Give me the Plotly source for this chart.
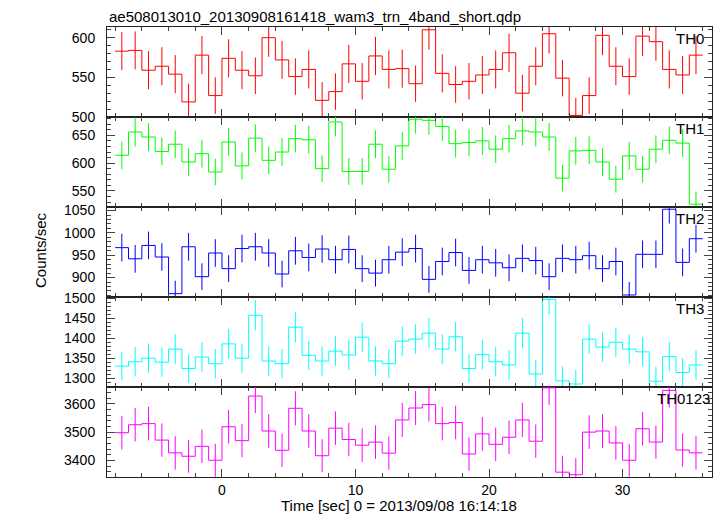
import plotly.graph_objects as go
from plotly.subplots import make_subplots

TIME = [-7.5, -6.5, -5.5, -4.5, -3.5, -2.5, -1.5, -0.5, 0.5, 1.5, 2.5, 3.5, 4.5, 5.5, 6.5,
        7.5, 8.5, 9.5, 10.5, 11.5, 12.5, 13.5, 14.5, 15.5, 16.5, 17.5, 18.5, 19.5, 20.5,
        21.5, 22.5, 23.5, 24.5, 25.5, 26.5, 27.5, 28.5, 29.5, 30.5, 31.5, 32.5, 33.5, 34.5, 35.5]
BIN_HALF = 0.5

TH0 = [583, 584, 559, 564, 554, 519, 578, 527, 574, 559, 552, 600, 572, 551, 560, 521, 532, 567, 545, 577,
       560, 561, 542, 610, 555, 541, 545, 553, 560, 581, 530, 564, 605, 549, 502, 527, 603, 564, 551, 602,
       595, 560, 553, 578]
TH0_ERR = [24, 24, 24, 24, 24, 23, 24, 23, 24, 24, 23, 24, 24, 23, 24, 23, 23, 24, 23, 24, 24, 24, 23, 25, 24,
           23, 23, 24, 24, 24, 23, 24, 25, 23, 22, 23, 25, 24, 23, 25, 24, 24, 24, 24]

TH1 = [614, 656, 647, 621, 634, 602, 617, 584, 638, 595, 645, 605, 620, 644, 642, 590, 674, 585, 585, 634,
       589, 631, 679, 677, 666, 635, 637, 640, 625, 644, 658, 656, 647, 573, 622, 623, 602, 571, 613, 589,
       625, 641, 636, 526]
TH1_ERR = [25, 26, 25, 25, 25, 25, 25, 24, 25, 24, 25, 25, 25, 25, 25, 24, 26, 24, 24, 25, 24, 25, 26, 26, 26,
           25, 25, 25, 25, 25, 26, 26, 25, 24, 25, 25, 25, 24, 25, 24, 25, 25, 25, 23]

TH2 = [967, 942, 972, 946, 864, 969, 902, 955, 920, 965, 969, 955, 908, 960, 945, 964, 940, 963, 920, 910,
       940, 957, 965, 896, 936, 956, 916, 940, 933, 922, 943, 938, 902, 943, 940, 949, 920, 936, 861, 952,
       952, 1053, 934, 987]
TH2_ERR = [31, 31, 31, 31, 29, 31, 30, 31, 30, 31, 31, 31, 30, 31, 31, 31, 31, 31, 30, 30, 31, 31, 31, 30, 31,
           31, 30, 31, 31, 30, 31, 31, 30, 31, 31, 31, 30, 31, 29, 31, 31, 32, 31, 31]

TH3 = [1330, 1341, 1350, 1340, 1373, 1324, 1353, 1336, 1386, 1350, 1458, 1343, 1336, 1428, 1357, 1343, 1368,
       1358, 1403, 1343, 1336, 1393, 1398, 1413, 1373, 1404, 1324, 1359, 1341, 1333, 1413, 1310, 1498, 1293,
       1285, 1398, 1378, 1390, 1373, 1366, 1292, 1354, 1314, 1333]
TH3_ERR = [36, 37, 37, 37, 37, 36, 37, 37, 37, 37, 38, 37, 37, 38, 37, 37, 37, 37, 37, 37, 37, 37, 37, 38, 37,
           37, 36, 37, 37, 37, 38, 36, 39, 36, 36, 37, 37, 37, 37, 37, 36, 37, 36, 37]

TH0123 = [3498, 3526, 3530, 3472, 3427, 3415, 3450, 3401, 3519, 3470, 3627, 3504, 3436, 3584, 3504, 3417, 3514,
          3474, 3454, 3465, 3426, 3543, 3585, 3597, 3530, 3534, 3423, 3494, 3457, 3482, 3543, 3468, 3656, 3359,
          3350, 3500, 3504, 3462, 3401, 3512, 3465, 3647, 3437, 3427]
TH0123_ERR = [59, 59, 59, 59, 59, 58, 59, 58, 59, 59, 60, 59, 59, 60, 59, 58, 59, 59, 59, 59, 59, 60, 60, 60, 59,
              59, 59, 59, 59, 59, 60, 59, 60, 58, 58, 59, 59, 59, 58, 59, 59, 60, 59, 59]

PANELS = ["TH0", "TH1", "TH2", "TH3", "TH0123"]
SERIES = [TH0, TH1, TH2, TH3, TH0123]
ERRORS = [TH0_ERR, TH1_ERR, TH2_ERR, TH3_ERR, TH0123_ERR]
COLORS = ["#ff0000", "#00ff00", "#0000ff", "#00ffff", "#ff00ff"]
YRANGES = [[500, 613.5], [521, 683], [856.5, 1058], [1277.5, 1504], [3342, 3659]]
YDTICK = [50, 50, 50, 50, 100]
YMINOR = [10, 10, 10, 10, 20]
XRANGE = [-8.61, 36.7]
TITLE = "ae508013010_20130908161418_wam3_trn_4band_short.qdp"
XLABEL = "Time [sec] 0 = 2013/09/08 16:14:18"
YLABEL = "Counts/sec"

FONT = "Liberation Sans, Arial, Helvetica, sans-serif"

fig = make_subplots(rows=5, cols=1, shared_xaxes=True, vertical_spacing=0)

for i, (name, vals, errs, col) in enumerate(zip(PANELS, SERIES, ERRORS, COLORS)):
    r = i + 1
    edges = [t - BIN_HALF for t in TIME] + [TIME[-1] + BIN_HALF]
    ystep = list(vals) + [vals[-1]]
    fig.add_trace(go.Scatter(x=edges, y=ystep, mode="lines", line=dict(color=col, width=1.0, shape="hv"),
                             showlegend=False, hoverinfo="skip"), row=r, col=1)
    fig.add_trace(go.Scatter(x=TIME, y=vals, mode="markers", marker=dict(size=0.1, color=col, opacity=0),
                             error_y=dict(type="data", array=errs, visible=True, color=col, thickness=1.0, width=0),
                             showlegend=False, hoverinfo="skip"), row=r, col=1)
    yname = "yaxis" if r == 1 else f"yaxis{r}"
    fig.layout[yname].update(
        range=YRANGES[i], dtick=YDTICK[i], tick0=0, ticks="inside", ticklen=8, tickwidth=1, tickcolor="#444",
        showline=True, linecolor="#222", linewidth=1, mirror="allticks", showgrid=False, zeroline=False,
        minor=dict(dtick=YMINOR[i], tick0=0, ticks="inside", ticklen=4, tickcolor="#444", tickwidth=1),
        tickfont=dict(family=FONT, size=14, color="black"), ticklabelstandoff=8,
    )
    xname = "xaxis" if r == 1 else f"xaxis{r}"
    fig.layout[xname].update(
        range=XRANGE, dtick=10, tick0=0, ticks="inside", ticklen=8, tickwidth=1, tickcolor="#444",
        showline=True, linecolor="#222", linewidth=1, mirror="allticks", showgrid=False, zeroline=False,
        minor=dict(dtick=2, tick0=0, ticks="inside", ticklen=4, tickcolor="#444", tickwidth=1),
        tickfont=dict(family=FONT, size=14, color="black"),
        showticklabels=(r == 5),
    )
    fig.add_annotation(text=name, xref=f"x{'' if r == 1 else r} domain", yref=f"y{'' if r == 1 else r} domain",
                       x=0.937 if name != "TH0123" else 0.906, y=1, xanchor="left", yanchor="top", yshift=-1,
                       showarrow=False, font=dict(family=FONT, size=15, color="black"))

fig.add_annotation(text=TITLE, xref="paper", yref="paper", x=0, y=1.023, xanchor="left", yanchor="middle",
                   showarrow=False, font=dict(family=FONT, size=15, color="black"))
fig.add_annotation(text=XLABEL, xref="paper", yref="paper", x=0.483, y=-0.064, xanchor="center", yanchor="middle",
                   showarrow=False, font=dict(family=FONT, size=15, color="black"))
fig.add_annotation(text=YLABEL, xref="paper", yref="paper", x=-0.111, y=0.504, xanchor="center", yanchor="middle",
                   textangle=-90, showarrow=False, font=dict(family=FONT, size=15, color="black"))

fig.update_layout(width=717, height=516, margin=dict(l=107, r=5, t=27, b=39),
                  paper_bgcolor="white", plot_bgcolor="white", showlegend=False)

fig.write_html("out.html", config={"displayModeBar": False, "staticPlot": True},
               post_script="document.body.style.margin='0px';document.body.style.overflow='hidden';")
